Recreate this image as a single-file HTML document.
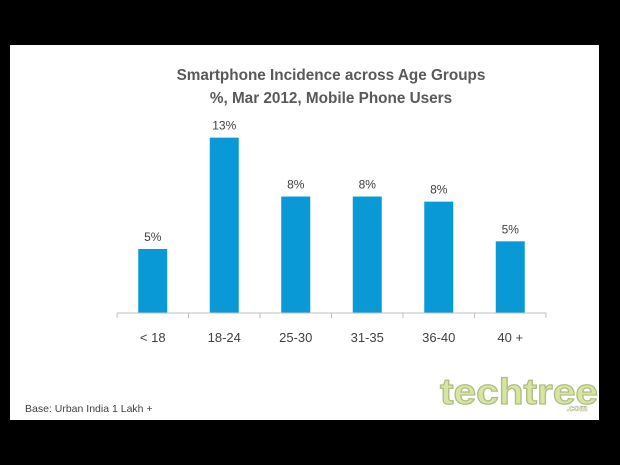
<!DOCTYPE html>
<html><head><meta charset="utf-8"><style>
html,body{margin:0;padding:0;background:#000;width:620px;height:465px;overflow:hidden}
svg{display:block}
</style></head><body>
<svg width="620" height="465" xmlns="http://www.w3.org/2000/svg">
<rect x="0" y="0" width="620" height="465" fill="#000"/>
<rect x="10" y="45" width="589" height="375" fill="#fff"/>
<text x="331" y="80" text-anchor="middle" font-family="Liberation Sans, sans-serif" font-weight="bold" font-size="15.3" fill="#595959">Smartphone Incidence across Age Groups</text>
<text x="331" y="103" text-anchor="middle" font-family="Liberation Sans, sans-serif" font-weight="bold" font-size="15.3" fill="#595959">%, Mar 2012, Mobile Phone Users</text>
<g id="plot"></g>
<text x="25" y="412" font-family="Liberation Sans, sans-serif" font-size="10.5" fill="#404040">Base: Urban India 1 Lakh +</text>
<text x="519" y="404" text-anchor="middle" textLength="158" lengthAdjust="spacingAndGlyphs" font-family="Liberation Sans, sans-serif" font-weight="bold" font-size="36" fill="#d6e6a0" stroke="#aebd84" stroke-width="1.2">techtree</text>
<text x="577" y="411" text-anchor="middle" font-family="Liberation Sans, sans-serif" font-weight="bold" font-size="9" fill="#fff" stroke="#aebd84" stroke-width="0.6">.com</text>
</svg>
<script>
const categories = ["< 18","18-24","25-30","31-35","36-40","40 +"];
const values = [5.0,13.7,9.1,9.1,8.7,5.6];
const valueLabels = ["5%","13%","8%","8%","8%","5%"];
const NS="http://www.w3.org/2000/svg";
const plot=document.getElementById('plot');
const x0=117,x1=546,yBase=313,pxPer=12.8;
const band=(x1-x0)/categories.length;
const xScale=i=>x0+band*i+band/2;
const yScale=v=>yBase-v*pxPer;
function mk(tag,attrs){const e=document.createElementNS(NS,tag);for(const k in attrs)e.setAttribute(k,attrs[k]);plot.appendChild(e);return e;}
categories.forEach((c,i)=>{
  const cx=xScale(i),top=yScale(values[i]);
  const b=mk('rect',{x:cx-14.5,y:top,width:29,height:yBase-top,fill:'#0899d6'});
  
  
  const t=mk('text',{x:cx,y:top-8,'text-anchor':'middle','font-family':'Liberation Sans, sans-serif','font-size':'12',fill:'#404040'});
  t.textContent=valueLabels[i];
  
  
  const l=mk('text',{x:cx,y:342,'text-anchor':'middle','font-family':'Liberation Sans, sans-serif','font-size':'13',fill:'#404040'});
  l.textContent=c;
  
  
});
const ax=mk('line',{x1:x0,y1:yBase,x2:x1,y2:yBase,stroke:'#bfbfbf','stroke-width':1});


for(let i=0;i<=categories.length;i++){
  const tx=x0+band*i;
  const tk=mk('line',{x1:tx,y1:yBase,x2:tx,y2:yBase+5,stroke:'#bfbfbf','stroke-width':1});
  
  
}
</script>
</body></html>
